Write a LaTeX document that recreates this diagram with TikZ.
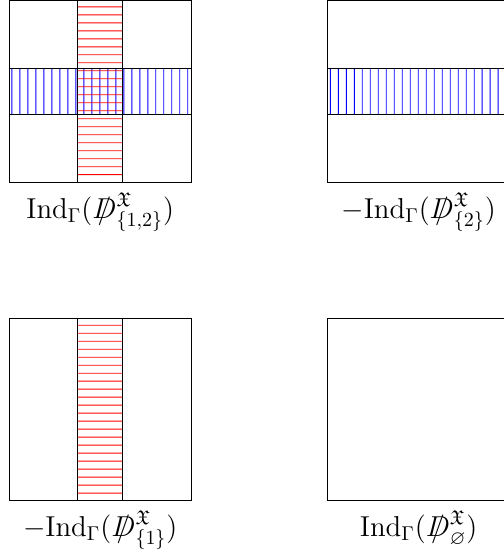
\documentclass[tikz,border=0pt]{standalone}
\usepackage{amssymb}
\newcommand{\dslash}{\mathord{\ooalign{$D$\cr\hfil$/$\hfil\cr}}}
\definecolor{bandblue}{RGB}{0,0,255}
\definecolor{bandred}{RGB}{255,0,0}
\tikzset{
  cell/.style={draw=black,line width=0.5pt},
  rowline/.style={fill=bandblue},
  colline/.style={fill=bandred},
  caption/.style={anchor=base,font=\Large,inner sep=0pt}
}

\begin{document}
\begin{tikzpicture}
  \useasboundingbox (-0.163,-6.607) rectangle (8.693,3.207);

  % row bands (top row)
  \foreach \ox in {0cm,5.6cm}
    \fill[rowline] \foreach \k in {0,...,22}
      {({\ox+1.1pt+\k*4pt},1.2cm) rectangle ++(0.45pt,0.8cm)};
  % column bands (left column)
  \foreach \oy in {3.2cm,-2.4cm}
    \fill[colline] \foreach \k in {0,...,21}
      {(1.2cm,{\oy-3pt-\k*4pt}) rectangle ++(0.8cm,-0.45pt)};

  % top left: both bands
  \draw[cell] (0,1.2) rectangle (3.2,2);
  \draw[cell] (1.2,0) rectangle (2,3.2);
  \draw[cell] (0,0) rectangle (3.2,3.2);
  \node[caption] (lab12) at (1.6,-0.63)
    {$\mathrm{Ind}_\Gamma(\dslash^{\mathfrak{X}}_{\{1,2\}})$};

  % top right: row band only
  \draw[cell] (5.6,1.2) rectangle (8.8,2);
  \draw[cell] (5.6,0) rectangle (8.8,3.2);
  \node[caption] (lab2) at (7.2,-0.63)
    {$-\mathrm{Ind}_\Gamma(\dslash^{\mathfrak{X}}_{\{2\}})$};

  % bottom left: column band only
  \draw[cell] (1.2,-5.6) rectangle (2,-2.4);
  \draw[cell] (0,-5.6) rectangle (3.2,-2.4);
  \node[caption] (lab1) at (1.6,-6.23)
    {$-\mathrm{Ind}_\Gamma(\dslash^{\mathfrak{X}}_{\{1\}})$};

  % bottom right: empty
  \draw[cell] (5.6,-5.6) rectangle (8.8,-2.4);
  \node[caption] (lab0) at (7.2,-6.23)
    {$\mathrm{Ind}_\Gamma(\dslash^{\mathfrak{X}}_{\varnothing})$};
\end{tikzpicture}
\end{document}
